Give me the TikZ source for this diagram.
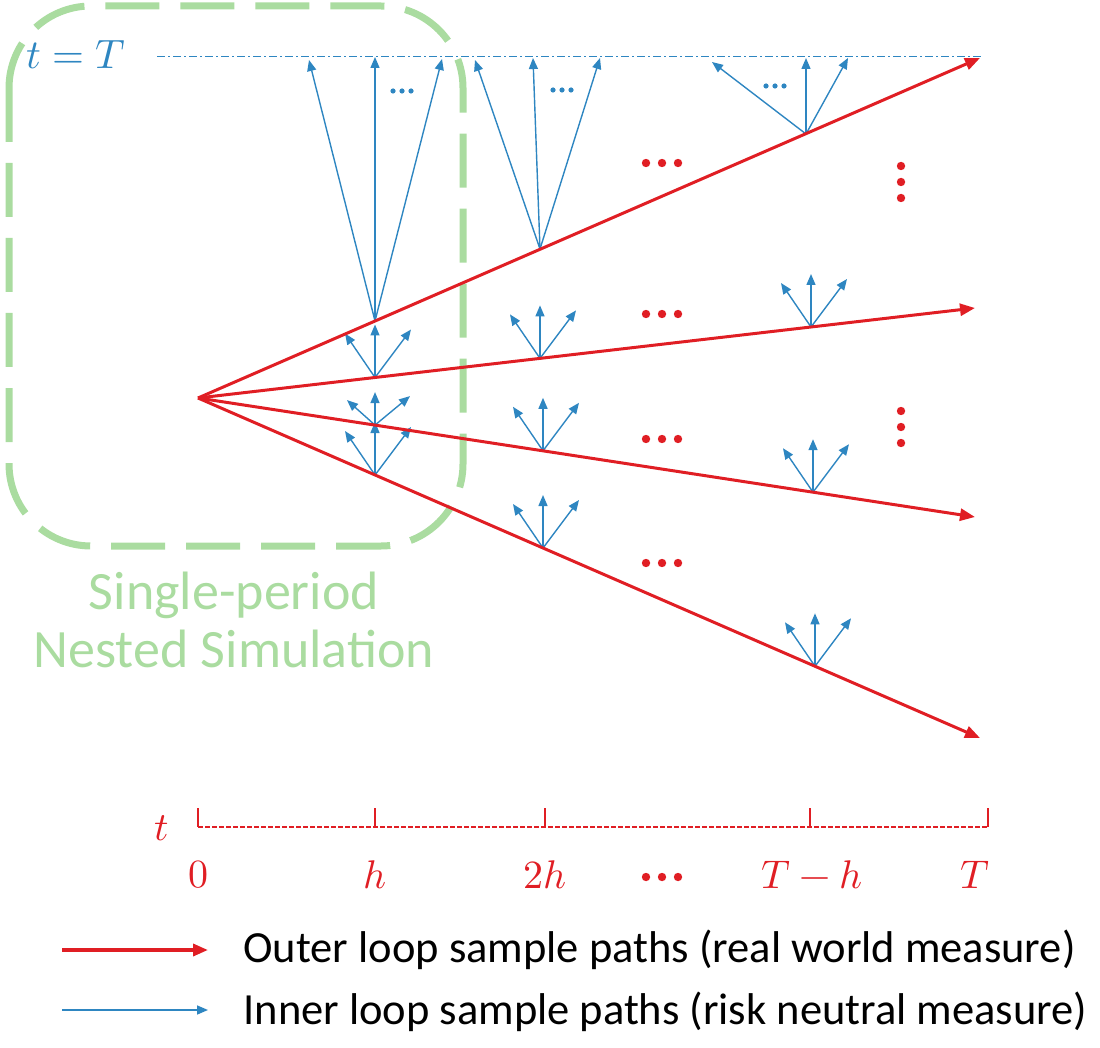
\documentclass[tikz,border=0pt]{standalone}
\usepackage{fontspec}
\usepackage{unicode-math}
\setmainfont{Carlito}
\usetikzlibrary{arrows.meta}
\definecolor{rd}{RGB}{224,30,36}
\definecolor{bl}{RGB}{46,134,193}
\definecolor{gr}{RGB}{170,220,160}
\tikzset{
  outer/.style={draw=rd, line width=3pt, -{Triangle[length=15pt,width=12pt]}},
  inner/.style={draw=bl, line width=1.4pt, -{Triangle[length=11pt,width=9pt]}},
  rdot/.style={fill=rd},
  bdot/.style={fill=bl},
  axlab/.style={text=rd, font=\fontsize{40}{44}\selectfont},
  legtext/.style={anchor=west, font=\fontsize{44.5}{48}\selectfont},
}
\begin{document}
\begin{tikzpicture}[x=1pt,y=-1pt]
\useasboundingbox (0,0) rectangle (1100,1048);
% green box
\draw[gr, line width=7pt, dash pattern=on 54pt off 21pt, rounded corners=82pt] (9,6) rectangle (463,546);
\node[text=gr, align=center, font=\fontsize{54}{58}\selectfont] (lab) at (234,620) {Single-period\\Nested Simulation};
% t=T line
\coordinate (L0) at (157,57);
\coordinate (L1) at (982,57);
\draw[bl, line width=1pt, dash pattern=on 8pt off 3pt on 2pt off 3pt] (L0) -- (L1);
\node[text=bl, font=\fontsize{41}{46}\selectfont] (tT) at (76,55) {$t=T$};
% outer paths
\coordinate (O) at (198,398);
\coordinate (E1) at (980,58);
\coordinate (E2) at (975,308);
\coordinate (E3) at (975,517);
\coordinate (E4) at (980,738);
% nodes
\coordinate (a1) at (375,321);
\coordinate (a2) at (540,249);
\coordinate (a3) at (806,134);
\coordinate (b1) at (375,377.5);
\coordinate (b2) at (540,358.4);
\coordinate (b3) at (811,327);
\coordinate (c1) at (375,425.1);
\coordinate (c2) at (543,450.8);
\coordinate (c3) at (813,492.2);
\coordinate (d1) at (375,475);
\coordinate (d2) at (543,548);
\coordinate (d3) at (815,666.3);
% big fans
\draw[inner] (a1) -- (309,60);
\draw[inner] (a1) -- (375,57);
\draw[inner] (a1) -- (442,59);
\draw[inner] (a2) -- (475,60);
\draw[inner] (a2) -- (533,58);
\draw[inner] (a2) -- (600,58);
\draw[inner] (a3) -- (712,62);
\draw[inner] (a3) -- (806,58);
\draw[inner] (a3) -- (848,58);
% small fans
\foreach \n in {b1,b2,b3,c2,c3,d1,d2,d3}{
  \draw[inner] (\n) -- ++(-30,-44);
  \draw[inner] (\n) -- ++(0,-53);
  \draw[inner] (\n) -- ++(36,-48);
}
\draw[inner] (c1) -- ++(-28,-25);
\draw[inner] (c1) -- ++(0,-33);
\draw[inner] (c1) -- ++(35,-29);
% outer arrows
\draw[outer] (O) -- (E1);
\draw[outer] (O) -- (E2);
\draw[outer] (O) -- (E3);
\draw[outer] (O) -- (E4);
% blue dots
\foreach \x/\y in {393/91,553/90,766/86}{
  \foreach \d in {0,9,18} \fill[bdot] (\x+\d,\y) circle (2.6);
}
% red dots
\foreach \y in {163,314,439,563,877}{
  \foreach \d in {-16,0,16} \fill[rdot] (662+\d,\y) circle (4.2);
}
\foreach \y in {166,182,198,411,427,443}{
  \fill[rdot] (901,\y) circle (4.2);
}
% axis
\coordinate (A0) at (198,827);
\coordinate (A1) at (988,827);
\draw[rd, line width=1.2pt, dash pattern=on 4.5pt off 2.5pt] (A0) -- (A1);
\foreach \x in {198,375,545,810,988}{
  \draw[rd, line width=1.2pt] (\x,808) -- (\x,827);
}
\node[axlab] (tl) at (162,828) {$t$};
\node[axlab] (l0) at (198,875) {$0$};
\node[axlab] (l1) at (375,875) {$h$};
\node[axlab] (l2) at (545,875) {$2h$};
\node[axlab] (l3) at (812,875) {$T-h$};
\node[axlab] (l4) at (975,875) {$T$};
% legend
\coordinate (r0) at (62,950);
\coordinate (r1) at (208,950);
\coordinate (s0) at (62,1010);
\coordinate (s1) at (208,1010);
\draw[outer, line width=3.5pt] (r0) -- (r1);
\draw[inner, line width=1.6pt] (s0) -- (s1);
\node[legtext] (lo) at (240,950) {Outer loop sample paths (real world measure)};
\node[legtext] (li) at (240,1012) {Inner loop sample paths (risk neutral measure)};
\end{tikzpicture}
\end{document}
